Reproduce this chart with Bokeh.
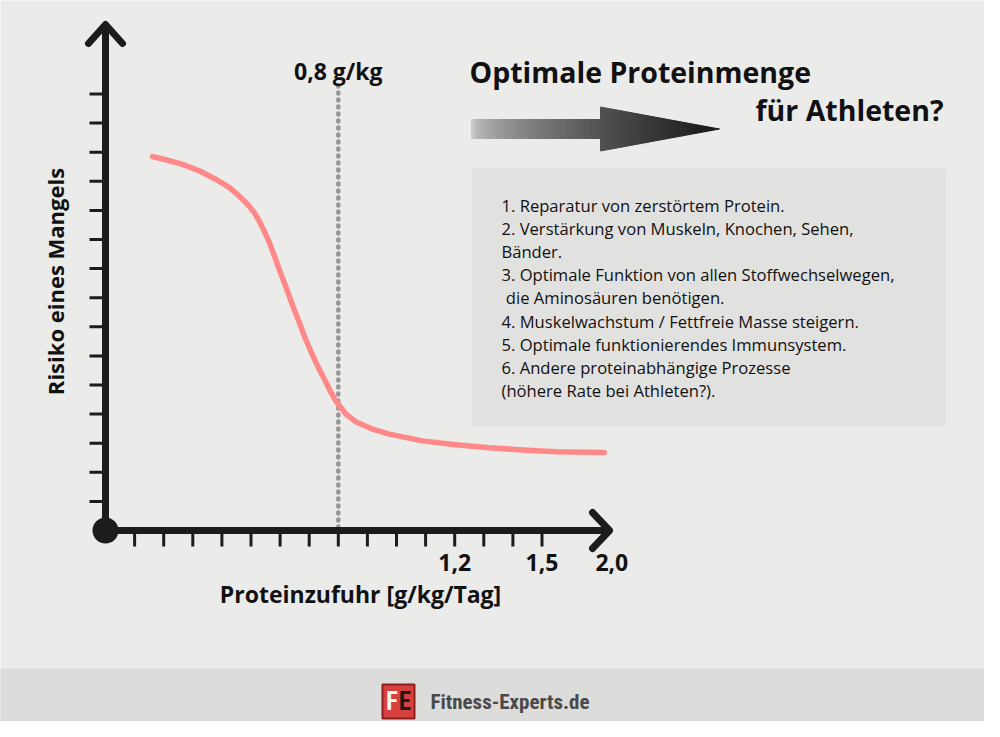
from bokeh.plotting import figure
from bokeh.models import Label
from bokeh.embed import file_html
from bokeh.resources import INLINE
import numpy as np

# curve: protein intake [g/kg/day] vs. risk of deficiency
protein = [0.162, 0.207, 0.265, 0.322, 0.379, 0.425, 0.459, 0.488, 0.511, 0.528,
           0.545, 0.563, 0.580, 0.597, 0.614, 0.631, 0.648, 0.666, 0.683, 0.700,
           0.723, 0.746, 0.769, 0.791, 0.826, 0.860, 0.918, 0.975, 1.089, 1.204,
           1.319, 1.433, 1.547, 1.714]
risk = [12.85, 12.74, 12.58, 12.36, 12.07, 11.79, 11.50, 11.21, 10.93, 10.64,
        10.30, 9.90, 9.44, 8.98, 8.52, 8.07, 7.60, 7.15, 6.69, 6.29,
        5.77, 5.32, 4.86, 4.46, 4.00, 3.74, 3.48, 3.31, 3.08, 2.95,
        2.84, 2.77, 2.71, 2.68]

x_ticks = [0.1, 0.2, 0.3, 0.4, 0.5, 0.6, 0.7, 0.8, 0.9, 1.0, 1.1, 1.2, 1.3, 1.4, 1.5]
x_tick_labels = {1.2: "1,2", 1.5: "1,5"}
x_end, x_end_label = 1.74, "2,0"
y_ticks = [1, 2, 3, 4, 5, 6, 7, 8, 9, 10, 11, 12, 13, 14, 15]

marker_x = 0.8
marker_label = "0,8 g/kg"

x_title = "Proteinzufuhr [g/kg/Tag]"
y_title = "Risiko eines Mangels"
headline = ["Optimale Proteinmenge", "für Athleten?"]
notes = [
    "1. Reparatur von zerstörtem Protein.",
    "2. Verstärkung von Muskeln, Knochen, Sehen,",
    "Bänder.",
    "3. Optimale Funktion von allen Stoffwechselwegen,",
    "\u00a0die Aminosäuren benötigen.",
    "4. Muskelwachstum / Fettfreie Masse steigern.",
    "5. Optimale funktionierendes Immunsystem.",
    "6. Andere proteinabhängige Prozesse",
    "(höhere Rate bei Athleten?).",
]
brand = "Fitness-Experts.de"

# layout helpers: page pixels -> data units
X0, Y0 = 113, 538      # origin
PX_X, PX_Y = 291, 29.1  # pixels per unit


def dx(px):
    return (px - X0) / PX_X


def dy(py):
    return (Y0 - py) / PX_Y


W, H = 984, 721
BG = "#ebebea"
INK = "#1c1c1c"
FONT = "Open Sans"
NARROW = "'Roboto Condensed', 'DejaVu Sans Condensed', Roboto"

p = figure(width=W, height=H, output_backend="svg", toolbar_location=None,
           x_range=(dx(8), dx(8 + W)), y_range=(dy(8 + H), dy(8)),
           x_axis_location=None, y_axis_location=None, min_border=0)
p.background_fill_color = BG
p.border_fill_color = BG
p.outline_line_color = None
p.grid.visible = False

# footer band
p.quad(left=dx(0), right=dx(1000), bottom=dy(740), top=dy(676),
       fill_color="#dcdcdb", line_color=None)

# notes box
p.quad(left=dx(479), right=dx(953), bottom=dy(434), top=dy(176),
       fill_color="#e1e1e0", line_color=None)

# gradient arrow
edges = np.concatenate([np.linspace(479, 608, 40), np.linspace(608, 727, 41)[1:]])
cy = 136.5
xs, ys, cols = [], [], []
for i in range(len(edges) - 1):
    a, b = edges[i], edges[i + 1]
    if a < 608:
        ha = hb = 9.5
    else:
        ha = 22 * (727 - a) / 119
        hb = 22 * (727 - b) / 119
    xs.append([dx(a), dx(b), dx(b), dx(a)])
    ys.append([dy(cy - ha), dy(cy - hb), dy(cy + hb), dy(cy + ha)])
    t = (a - 479) / (727 - 479)
    g = int(202 - 178 * t ** 0.6)
    cols.append("#%02x%02x%02x" % (g, g, g))
p.patches(xs, ys, fill_color=cols, line_color=cols, line_width=1)

# marker line
p.line([marker_x, marker_x], [dy(535), dy(88)], line_color="#969696",
       line_width=4.5, line_dash="1 6", line_cap="round")

# curve
p.line(protein, risk, line_color="#ff8888", line_width=5.5,
       line_join="round", line_cap="round")

# axes
y_tip, x_tip = dy(32), dx(617)
p.segment([0] * len(y_ticks), y_ticks, [dx(97)] * len(y_ticks), y_ticks,
          line_color=INK, line_width=3)
p.segment(x_ticks, [0] * len(x_ticks), x_ticks, [dy(554)] * len(x_ticks),
          line_color=INK, line_width=3)
p.multi_line([[0, 0], [0, x_tip]], [[0, y_tip], [0, 0]],
             line_color=INK, line_width=7)
p.multi_line([[dx(96), 0, dx(130)], [dx(600), x_tip, dx(600)]],
             [[dy(51), y_tip, dy(51)], [dy(520), 0, dy(556)]],
             line_color=INK, line_width=7, line_cap="round", line_join="round")
p.scatter([0], [0], size=26, fill_color=INK, line_color=None)

bold = dict(text_font=FONT, text_font_style="bold", text_color="#111111",
            text_baseline="middle")
for v, s in x_tick_labels.items():
    p.add_layout(Label(x=v, y=dy(570), text=s, text_align="center",
                       text_font_size="23px", **bold))
p.add_layout(Label(x=x_end, y=dy(570), text=x_end_label, text_align="center",
                   text_font_size="23px", **bold))
p.add_layout(Label(x=dx(368), y=dy(601), text=x_title, text_align="center",
                   text_font_size="23px", **bold))
p.add_layout(Label(x=dx(62), y=dy(289), text=y_title, text_align="center",
                   angle=np.pi / 2, text_font_size="22px", **bold))
p.add_layout(Label(x=marker_x, y=dy(78), text=marker_label, text_align="center",
                   text_font_size="23px", **bold))

p.add_layout(Label(x=dx(477), y=dy(79), text=headline[0], text_align="left",
                   text_font_size="28.5px", **bold))
p.add_layout(Label(x=dx(951), y=dy(117), text=headline[1], text_align="right",
                   text_font_size="28.5px", **bold))

for i, line in enumerate(notes):
    p.add_layout(Label(x=dx(509), y=dy(213 + i * 23.1), text=line,
                       text_align="left", text_baseline="middle",
                       text_font=FONT, text_font_size="16.6px",
                       text_color="#111111"))

# footer logo
p.quad(left=dx(390), right=dx(422), bottom=dy(726), top=dy(692),
       fill_color="#d8403d", line_color="#8e1f1d", line_width=2)
p.add_layout(Label(x=dx(399.5), y=dy(709), text="F", text_align="center",
                   text_baseline="middle", text_font=NARROW,
                   text_font_style="bold", text_font_size="25px",
                   text_color="#f4f4f4"))
p.add_layout(Label(x=dx(412.5), y=dy(709), text="E", text_align="center",
                   text_baseline="middle", text_font=NARROW,
                   text_font_style="bold", text_font_size="25px",
                   text_color="#1a1a1a"))
p.add_layout(Label(x=dx(438), y=dy(709), text=brand, text_align="left",
                   text_baseline="middle", text_font=NARROW,
                   text_font_style="bold", text_font_size="21px",
                   text_color="#4a4a4a"))

open("out.html", "w").write(file_html(p, INLINE))
